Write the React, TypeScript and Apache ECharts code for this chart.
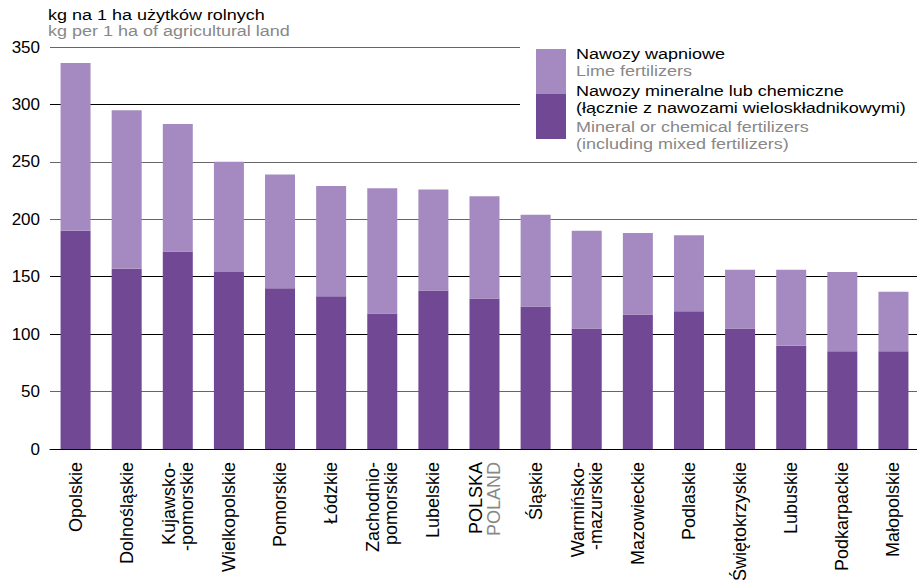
import React, { useEffect, useRef } from "react";
import * as echarts from "echarts";

const categories = [
  "Opolskie",
  "Dolnośląskie",
  "Kujawsko-\n-pomorskie",
  "Wielkopolskie",
  "Pomorskie",
  "Łódzkie",
  "Zachodnio-\npomorskie",
  "Lubelskie",
  "POLSKA",
  "Śląskie",
  "Warmińsko-\n-mazurskie",
  "Mazowieckie",
  "Podlaskie",
  "Świętokrzyskie",
  "Lubuskie",
  "Podkarpackie",
  "Małopolskie",
];

const mineralValues = [190, 157, 172, 154, 140, 133, 118, 138, 131, 124, 105, 117, 120, 105, 90, 85, 85];
const limeValues = [146, 138, 111, 96, 99, 96, 109, 88, 89, 80, 85, 71, 66, 51, 66, 69, 52];

const yTicks = [0, 50, 100, 150, 200, 250, 300, 350];

const titlePL = "kg na 1 ha użytków rolnych";
const titleEN = "kg per 1 ha of agricultural land";
const legendLime = ["Nawozy wapniowe", "Lime fertilizers"];
const legendMineral = [
  "Nawozy mineralne lub chemiczne",
  "(łącznie z nawozami wieloskładnikowymi)",
  "Mineral or chemical fertilizers",
  "(including mixed fertilizers)",
];

const DARK = "#704894";
const LIGHT = "#a48ac0";
const FONT = "Liberation Sans, Arial, sans-serif";

export default function App() {
  const ref = useRef<HTMLDivElement>(null);
  useEffect(() => {
    if (!ref.current) return;
    const chart = echarts.init(ref.current, null, { renderer: "svg" });
    const text = (x: number, y: number, t: string, color: string) => ({
      type: "text",
      x,
      y,
      scaleX: 1.2,
      scaleY: 1,
      z: 20,
      style: { text: t, fill: color, font: `15px ${FONT}`, textVerticalAlign: "top" },
    });
    chart.setOption({
      animation: false,
      textStyle: { fontFamily: FONT },
      grid: {
        left: 50,
        right: -2,
        top: 47,
        bottom: 131,
        containLabel: false,
        outerBoundsMode: "none",
      },
      xAxis: {
        type: "category",
        data: categories,
        axisTick: { show: false },
        axisLine: { lineStyle: { color: "#000", width: 1 } },
        axisLabel: {
          rotate: 90,
          interval: 0,
          margin: 13,
          fontSize: 18,
          lineHeight: 18,
          color: "#000",
          fontFamily: FONT,
          formatter: (v: string) => (v === "POLSKA" ? "{a|POLSKA}\n{b|POLAND}" : v),
          rich: {
            a: { color: "#000", fontSize: 18, lineHeight: 18, fontFamily: FONT },
            b: { color: "#888", fontSize: 18, lineHeight: 18, fontFamily: FONT },
          },
        },
      },
      yAxis: {
        type: "value",
        min: yTicks[0],
        max: yTicks[yTicks.length - 1],
        interval: 50,
        axisLine: { show: false },
        axisTick: { show: false },
        axisLabel: { fontSize: 17, color: "#000", margin: 10, fontFamily: FONT },
        splitLine: {
          lineStyle: {
            color: ["#000", "#666", "#000", "#000", "#666", "#666", "#000", "#666"],
            width: 1,
          },
        },
      },
      series: [
        {
          name: "Nawozy mineralne lub chemiczne",
          type: "bar",
          stack: "total",
          barWidth: 30,
          data: mineralValues,
          itemStyle: { color: DARK },
        },
        {
          name: "Nawozy wapniowe",
          type: "bar",
          stack: "total",
          barWidth: 30,
          data: limeValues,
          itemStyle: { color: LIGHT },
        },
      ],
      graphic: [
        text(48, 8, titlePL, "#000"),
        text(48, 24, titleEN, "#888"),
        {
          type: "rect",
          z: 10,
          shape: { x: 520, y: 38, width: 400, height: 117 },
          style: { fill: "#fff" },
        },
        { type: "rect", z: 15, shape: { x: 536, y: 49, width: 30, height: 45 }, style: { fill: LIGHT } },
        { type: "rect", z: 15, shape: { x: 536, y: 94, width: 30, height: 45 }, style: { fill: DARK } },
        text(576, 47, legendLime[0], "#000"),
        text(576, 64, legendLime[1], "#888"),
        text(576, 84, legendMineral[0], "#000"),
        text(576, 101, legendMineral[1], "#000"),
        text(576, 120, legendMineral[2], "#888"),
        text(576, 137, legendMineral[3], "#888"),
      ],
    });
    return () => chart.dispose();
  }, []);
  return <div ref={ref} style={{ width: 917, height: 580, position: "absolute", left: 0, top: 0 }} />;
}
